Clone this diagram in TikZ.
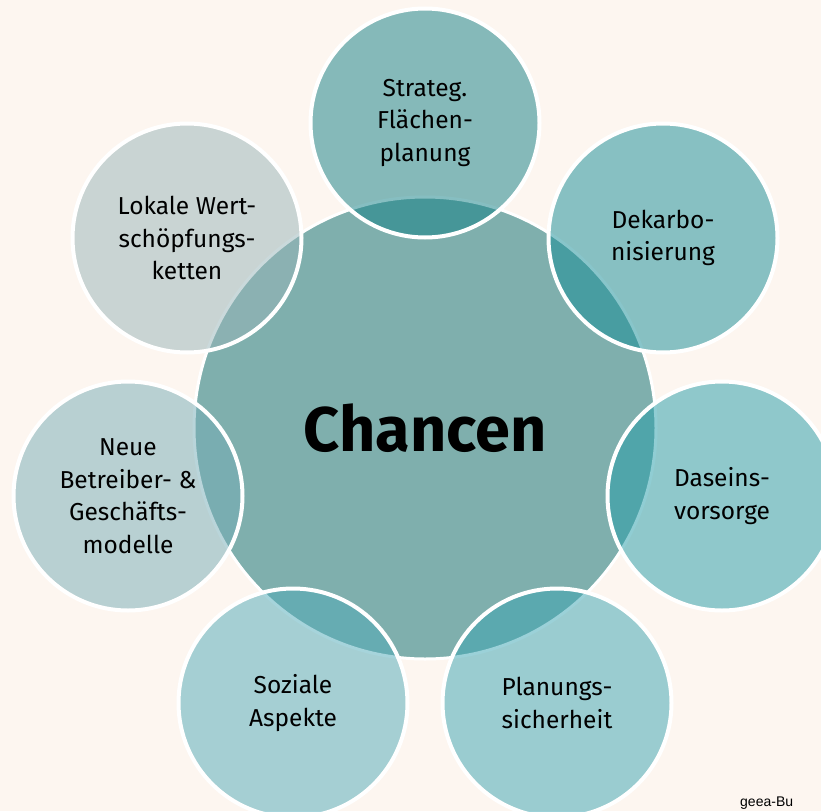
\documentclass[tikz,border=0pt]{standalone}
\usepackage{fontspec}
\setmainfont{Fira Sans}
\newfontfamily\notefont{Liberation Sans}
\definecolor{creambg}{RGB}{253,246,240}
\definecolor{bigc}{RGB}{127,175,173}
\definecolor{cA}{RGB}{15,126,132}
\definecolor{cB}{RGB}{19,140,150}
\definecolor{cC}{RGB}{35,156,168}
\definecolor{cD}{RGB}{57,164,178}
\definecolor{cE}{RGB}{79,170,184}
\definecolor{cF}{RGB}{117,172,182}
\definecolor{cG}{RGB}{151,180,184}
\tikzset{
  bigcircle/.style={circle, fill=bigc, draw=white, line width=3pt, minimum size=462pt, inner sep=0pt,
    font=\fontsize{63}{72}\selectfont\bfseries},
  smallcircle/.style={circle, draw=white, line width=4pt, minimum size=229pt, inner sep=0pt,
    fill opacity=0.5, text opacity=1, align=center, font=\fontsize{24.5}{32.5}\selectfont}
}
\begin{document}
\begin{tikzpicture}[x=1pt,y=-1pt]
\fill[creambg] (0,0) rectangle (821,811);
\useasboundingbox (0,0) rectangle (821,811);
\clip (0,0) rectangle (821,811);
\node[bigcircle] (center) at (425,428) {Chancen};
\node[smallcircle, fill=cA] (s1) at (425,123) {Strateg.\\Flächen-\\planung};
\node[smallcircle, fill=cB] (s2) at (663,238) {Dekarbo-\\nisierung};
\node[smallcircle, fill=cC] (s3) at (722,496) {Daseins-\\vorsorge};
\node[smallcircle, fill=cD] (s4) at (557,703) {Planungs-\\sicherheit};
\node[smallcircle, fill=cE] (s5) at (293,703) {Soziale\\Aspekte};
\node[smallcircle, fill=cF] (s6) at (128,496) {Neue\\Betreiber- \&\\Geschäfts-\\modelle};
\node[smallcircle, fill=cG] (s7) at (187,238) {Lokale Wert-\\schöpfungs-\\ketten};
\node[anchor=base west, font=\notefont\fontsize{14}{16}\selectfont, inner sep=0pt] (note) at (740,806) {geea-Bu};
\end{tikzpicture}
\end{document}
